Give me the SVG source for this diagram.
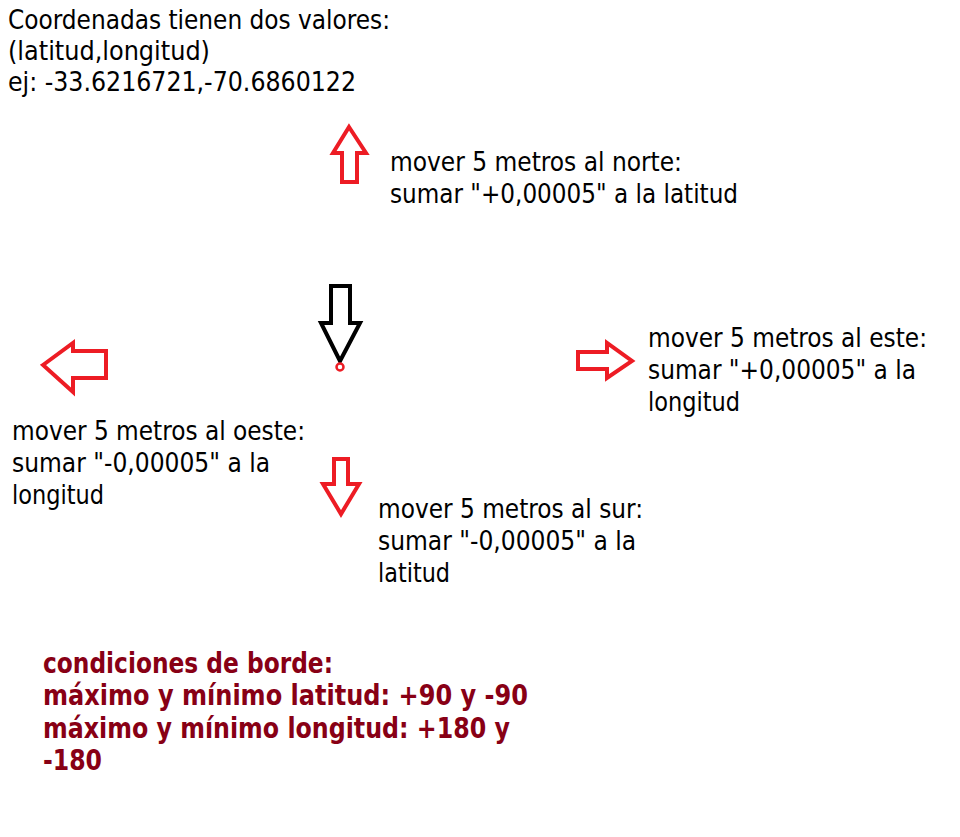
<svg xmlns="http://www.w3.org/2000/svg" width="960" height="837" viewBox="0 0 960 837">
<style>
.t{font-family:"DejaVu Sans Condensed","DejaVu Sans",sans-serif;font-stretch:condensed;font-size:27px;fill:#000}
.b{font-family:"DejaVu Sans Condensed","DejaVu Sans",sans-serif;font-stretch:condensed;font-size:27.5px;font-weight:bold;fill:#880015}
.ar{fill:#fff;stroke:#ed1c24;stroke-width:4;stroke-linejoin:miter}
.ak{fill:#fff;stroke:#000;stroke-width:4;stroke-linejoin:miter}
</style>
<rect width="960" height="837" fill="#fff"/>
<g id="header">
<text class="t" x="8" y="29" textLength="382" lengthAdjust="spacingAndGlyphs">Coordenadas tienen dos valores:</text>
<text class="t" x="8" y="60" textLength="202" lengthAdjust="spacingAndGlyphs">(latitud,longitud)</text>
<text class="t" x="8" y="91" textLength="348" lengthAdjust="spacingAndGlyphs">ej: -33.6216721,-70.6860122</text>
</g>
<g id="arrows">
<polygon id="arrow-north" class="ar" points="349,127 366,153 357,153 357,182 342,182 342,153 333,153"/>
<polygon id="arrow-origin" class="ak" points="331,286 350,286 350,323 360,323 340,361 321,323 331,323"/>
<circle id="origin-point" cx="340" cy="367" r="3.5" fill="#fff" stroke="#ed1c24" stroke-width="2.5"/>
<polygon id="arrow-west" class="ar" points="43,365 73,343 73,351 106,351 106,378 73,378 73,392"/>
<polygon id="arrow-east" class="ar" points="578,352 607,352 607,343 632,361 607,378 607,369 578,369"/>
<polygon id="arrow-south" class="ar" points="334,459 348,459 348,484 359,484 341,514 323,484 334,484"/>
</g>
<g id="label-north">
<text class="t" x="390" y="171" textLength="292" lengthAdjust="spacingAndGlyphs">mover 5 metros al norte:</text>
<text class="t" x="390" y="203" textLength="348" lengthAdjust="spacingAndGlyphs">sumar "+0,00005" a la latitud</text>
</g>
<g id="label-east">
<text class="t" x="648" y="347" textLength="279" lengthAdjust="spacingAndGlyphs">mover 5 metros al este:</text>
<text class="t" x="648" y="379" textLength="268" lengthAdjust="spacingAndGlyphs">sumar "+0,00005" a la</text>
<text class="t" x="648" y="411" textLength="92" lengthAdjust="spacingAndGlyphs">longitud</text>
</g>
<g id="label-west">
<text class="t" x="12" y="440" textLength="293" lengthAdjust="spacingAndGlyphs">mover 5 metros al oeste:</text>
<text class="t" x="12" y="472" textLength="258" lengthAdjust="spacingAndGlyphs">sumar "-0,00005" a la</text>
<text class="t" x="12" y="504" textLength="92" lengthAdjust="spacingAndGlyphs">longitud</text>
</g>
<g id="label-south">
<text class="t" x="378" y="518" textLength="265" lengthAdjust="spacingAndGlyphs">mover 5 metros al sur:</text>
<text class="t" x="378" y="550" textLength="258" lengthAdjust="spacingAndGlyphs">sumar "-0,00005" a la</text>
<text class="t" x="378" y="582" textLength="72" lengthAdjust="spacingAndGlyphs">latitud</text>
</g>
<g id="conditions">
<text class="b" x="43" y="673" textLength="290" lengthAdjust="spacingAndGlyphs">condiciones de borde:</text>
<text class="b" x="43" y="705" textLength="485" lengthAdjust="spacingAndGlyphs">máximo y mínimo latitud: +90 y -90</text>
<text class="b" x="43" y="738" textLength="467" lengthAdjust="spacingAndGlyphs">máximo y mínimo longitud: +180 y</text>
<text class="b" x="43" y="770" textLength="59" lengthAdjust="spacingAndGlyphs">-180</text>
</g>
</svg>
